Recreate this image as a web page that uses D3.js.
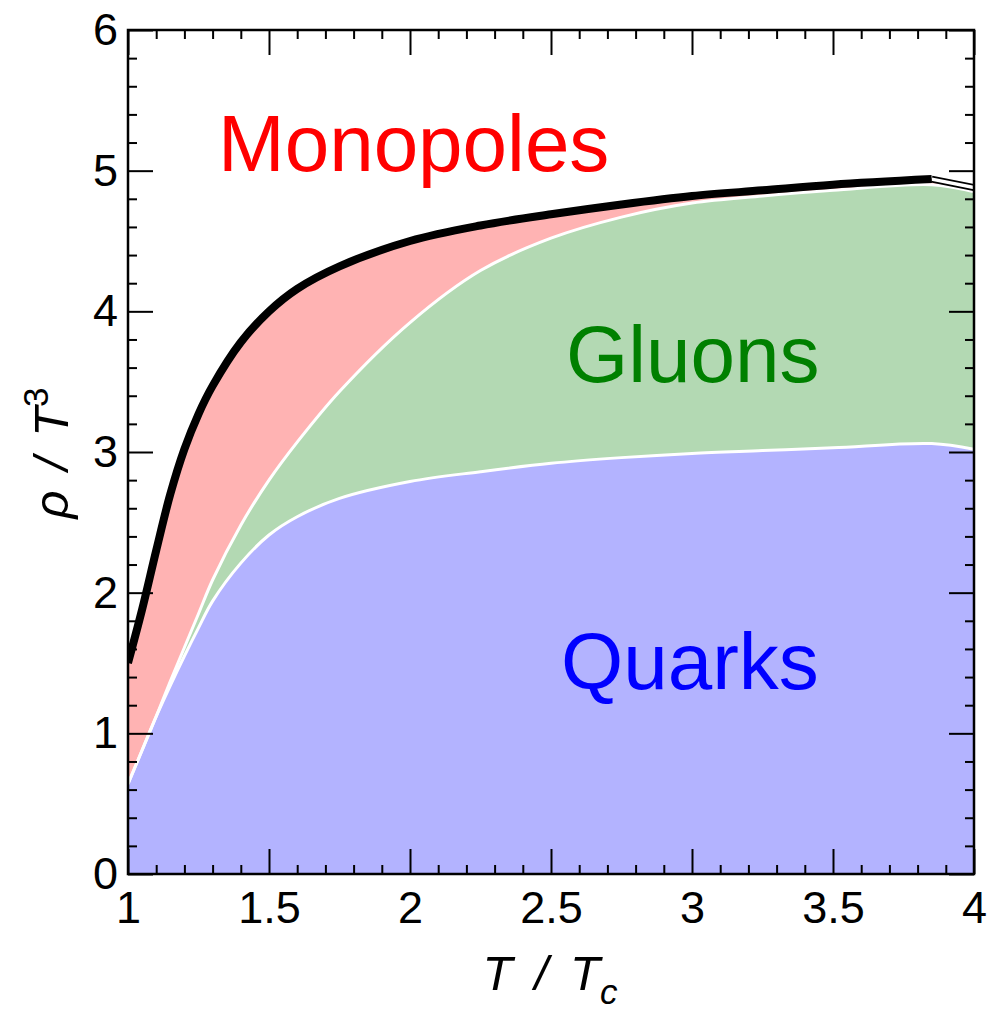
<!DOCTYPE html>
<html>
<head>
<meta charset="utf-8">
<script src="https://cdn.jsdelivr.net/npm/d3@7"></script>
<style>
  body { margin: 0; background: #fff; }
  svg text { font-family: "Liberation Sans", Arial, sans-serif; }
</style>
</head>
<body>
<div id="chart"></div>
<script>
// T / Tc sample points
const tGrid = [1.0, 1.05, 1.1, 1.15, 1.2, 1.25, 1.3, 1.4, 1.5, 1.6, 1.75, 2.0, 2.25, 2.5, 2.75, 3.0, 3.25, 3.5, 3.85, 4.0];
// cumulative rho/T^3
const quarksTop = [0.64, 0.88, 1.12, 1.34, 1.55, 1.75, 1.94, 2.21, 2.41, 2.54, 2.67, 2.79, 2.86, 2.92, 2.96, 2.99, 3.01, 3.03, 3.06, 3.02];
const gluonsTop = [0.64, 0.88, 1.12, 1.37, 1.61, 1.85, 2.09, 2.48, 2.8, 3.07, 3.43, 3.92, 4.29, 4.52, 4.67, 4.77, 4.82, 4.86, 4.9, 4.85];
const totalTop  = [1.5, 1.88, 2.3, 2.7, 3.02, 3.27, 3.47, 3.78, 4.0, 4.16, 4.32, 4.5, 4.61, 4.69, 4.76, 4.82, 4.86, 4.9, 4.94, 4.88];
const extrapFrom = 3.85;

const xMajor = [1, 1.5, 2, 2.5, 3, 3.5, 4];
const yMajor = [0, 1, 2, 3, 4, 5, 6];
const xMinor = d3.range(10, 41).map(d => d / 10).filter(d => !xMajor.includes(d));
const yMinor = d3.range(0, 31).map(d => d / 5).filter(d => !yMajor.some(m => Math.abs(m - d) < 1e-9));

const labels = [
    { text: "Monopoles", x: 218, y: 171, color: "#ff0000" },
    { text: "Gluons", x: 566, y: 382, color: "#008000" },
    { text: "Quarks", x: 561, y: 689, color: "#0000ff" }
];

const W = 990, H = 1025;
const plot = { left: 128, right: 974, top: 30, bottom: 874 };

const svg = d3.select("#chart").append("svg")
    .attr("width", W)
    .attr("height", H);

const x = d3.scaleLinear().domain([1, 4]).range([plot.left, plot.right]);
const y = d3.scaleLinear().domain([0, 6]).range([plot.bottom, plot.top]);

const rows = tGrid.map((t, i) => ({ t, q: quarksTop[i], g: gluonsTop[i], tot: totalTop[i] }));

svg.append("clipPath").attr("id", "clip")
    .append("rect")
    .attr("x", plot.left).attr("y", plot.top)
    .attr("width", plot.right - plot.left).attr("height", plot.bottom - plot.top);

const g = svg.append("g").attr("clip-path", "url(#clip)");
const curve = d3.curveCatmullRom.alpha(0.5);

// filled bands
g.append("path").datum(rows)
    .attr("fill", "#b3b3ff")
    .attr("d", d3.area().curve(curve).x(d => x(d.t)).y0(y(0)).y1(d => y(d.q)));

g.append("path").datum(rows)
    .attr("fill", "#b3d9b3")
    .attr("d", d3.area().curve(curve).x(d => x(d.t)).y0(d => y(d.q)).y1(d => y(d.g)));

g.append("path").datum(rows)
    .attr("fill", "#ffb3b3")
    .attr("d", d3.area().curve(curve).x(d => x(d.t)).y0(d => y(d.g)).y1(d => y(d.tot)));

// white separators
["q", "g"].forEach(key => {
    g.append("path").datum(rows)
        .attr("fill", "none")
        .attr("stroke", "#fff")
        .attr("stroke-width", 3)
        .attr("d", d3.line().curve(curve).x(d => x(d.t)).y(d => y(d[key])));
});

// total: solid up to extrapFrom, hollow after
const totLine = d3.line().curve(curve).x(d => x(d.t)).y(d => y(d.tot));
const solid = rows.filter(d => d.t <= extrapFrom);
const hollow = rows.filter(d => d.t >= extrapFrom);

g.append("path").datum(hollow)
    .attr("fill", "none").attr("stroke", "#000").attr("stroke-width", 7)
    .attr("d", totLine);
g.append("path").datum(hollow)
    .attr("fill", "none").attr("stroke", "#fff").attr("stroke-width", 3.5)
    .attr("d", totLine);
g.append("path").datum(solid)
    .attr("fill", "none").attr("stroke", "#000").attr("stroke-width", 8)
    .attr("d", totLine);

// axes with inward ticks
function styleAxis(sel) {
    sel.select(".domain").remove();
    sel.selectAll(".tick line").attr("stroke", "#000").attr("stroke-width", 2);
    sel.selectAll(".tick text")
        .attr("fill", "#000")
        .style("font-size", "45px")
        .style("font-family", "'Liberation Sans', Arial, sans-serif");
}

const fmt = d => String(d);

svg.append("g").attr("transform", `translate(0,${plot.bottom})`)
    .call(d3.axisBottom(x).tickValues(xMajor).tickSize(-25).tickPadding(17).tickFormat(fmt))
    .call(styleAxis);
svg.append("g").attr("transform", `translate(0,${plot.bottom})`)
    .call(d3.axisBottom(x).tickValues(xMinor).tickSize(-9).tickFormat(""))
    .call(styleAxis);
svg.append("g").attr("transform", `translate(0,${plot.top})`)
    .call(d3.axisTop(x).tickValues(xMajor).tickSize(-25).tickFormat(""))
    .call(styleAxis);
svg.append("g").attr("transform", `translate(0,${plot.top})`)
    .call(d3.axisTop(x).tickValues(xMinor).tickSize(-9).tickFormat(""))
    .call(styleAxis);

svg.append("g").attr("transform", `translate(${plot.left},0)`)
    .call(d3.axisLeft(y).tickValues(yMajor).tickSize(-25).tickPadding(10).tickFormat(fmt))
    .call(styleAxis);
svg.append("g").attr("transform", `translate(${plot.left},0)`)
    .call(d3.axisLeft(y).tickValues(yMinor).tickSize(-9).tickFormat(""))
    .call(styleAxis);
svg.append("g").attr("transform", `translate(${plot.right},0)`)
    .call(d3.axisRight(y).tickValues(yMajor).tickSize(-25).tickFormat(""))
    .call(styleAxis);
svg.append("g").attr("transform", `translate(${plot.right},0)`)
    .call(d3.axisRight(y).tickValues(yMinor).tickSize(-9).tickFormat(""))
    .call(styleAxis);

// frame
svg.append("rect")
    .attr("x", plot.left).attr("y", plot.top)
    .attr("width", plot.right - plot.left).attr("height", plot.bottom - plot.top)
    .attr("fill", "none").attr("stroke", "#000").attr("stroke-width", 2.5);

// region labels
svg.selectAll(".region-label")
    .data(labels)
    .enter().append("text")
    .attr("class", "region-label")
    .attr("x", d => d.x)
    .attr("y", d => d.y)
    .attr("fill", d => d.color)
    .style("font-size", "80px")
    .text(d => d.text);

// axis titles
const xt = svg.append("text")
    .attr("x", 550).attr("y", 990)
    .attr("text-anchor", "middle")
    .style("font-size", "49px")
    .style("font-style", "italic");
xt.append("tspan").text("T");
xt.append("tspan").attr("dx", 22).text("/");
xt.append("tspan").attr("dx", 22).text("T");
xt.append("tspan").attr("dy", 14).style("font-size", "35px").text("c");

const yt = svg.append("text")
    .attr("transform", "translate(68,453) rotate(-90)")
    .attr("text-anchor", "middle")
    .style("font-size", "49px")
    .style("font-style", "italic");
yt.append("tspan").text("ρ");
yt.append("tspan").attr("dx", 20).text("/");
yt.append("tspan").attr("dx", 20).text("T");
yt.append("tspan").attr("dy", -20).style("font-size", "35px").style("font-style", "normal").text("3");
</script>
</body>
</html>
